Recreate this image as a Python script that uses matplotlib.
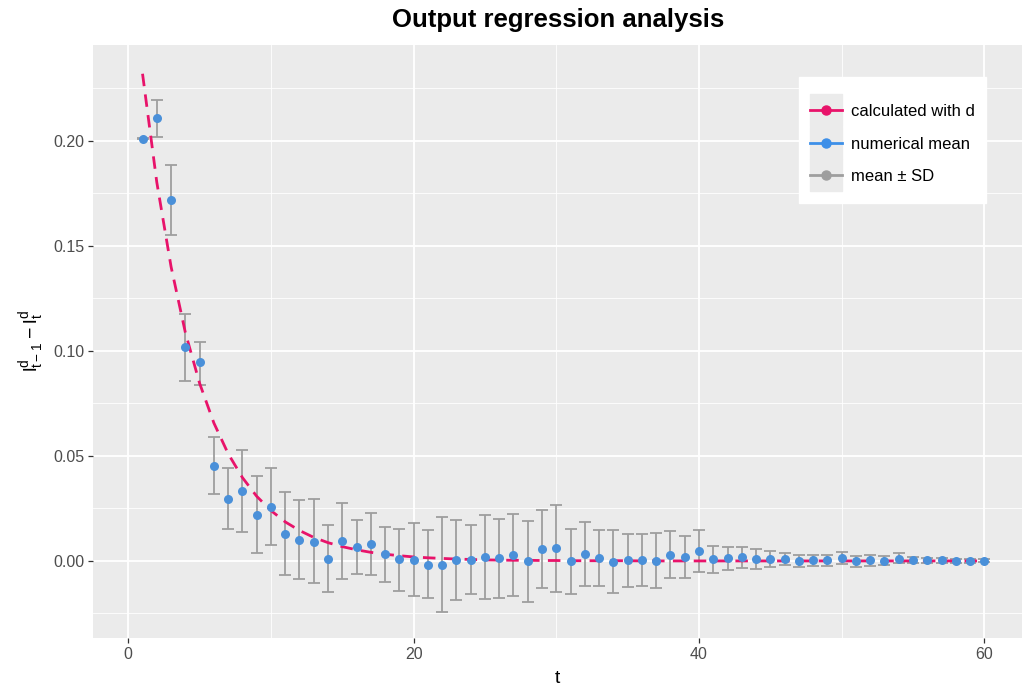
import matplotlib
matplotlib.use("Agg")
import matplotlib.pyplot as plt
import numpy as np
from matplotlib.lines import Line2D
from matplotlib.legend_handler import HandlerTuple, HandlerLine2D
from matplotlib.ticker import MultipleLocator, FuncFormatter

# datos
t = list(range(1, 61))

calculado = [0.2320, 0.1803, 0.1401, 0.1088, 0.0846, 0.0657, 0.0511, 0.0397, 0.0308, 0.0240,
             0.0186, 0.0145, 0.0112, 0.0087, 0.0068, 0.0053, 0.0041, 0.0032, 0.0025, 0.0019,
             0.0015, 0.0012, 0.0009, 0.0007, 0.0005, 0.0004, 0.0003, 0.0003, 0.0002, 0.0002,
             0.0001, 0.0001, 0.0001, 0.0001, 0.0001, 0.0, 0.0, 0.0, 0.0, 0.0,
             0.0, 0.0, 0.0, 0.0, 0.0, 0.0, 0.0, 0.0, 0.0, 0.0,
             0.0, 0.0, 0.0, 0.0, 0.0, 0.0, 0.0, 0.0, 0.0, 0.0]

media = [0.2010, 0.2108, 0.1718, 0.1021, 0.0946, 0.0454, 0.0295, 0.0335, 0.0221, 0.0259,
         0.0130, 0.0102, 0.0092, 0.0011, 0.0095, 0.0068, 0.0082, 0.0035, 0.0008, 0.0005,
         -0.0017, -0.0017, 0.0005, 0.0005, 0.0019, 0.0013, 0.0029, -0.0002, 0.0057, 0.0062,
         -0.0002, 0.0035, 0.0014, -0.0005, 0.0003, 0.0005, 0.0002, 0.0030, 0.0019, 0.0049,
         0.0011, 0.0013, 0.0021, 0.0011, 0.0008, 0.0010, -0.0002, 0.0004, 0.0004, 0.0014,
         -0.0002, 0.0004, 0.0002, 0.0010, 0.0003, 0.0003, 0.0004, 0.0001, 0.0000, 0.0002]

superior = [0.2012, 0.2195, 0.1886, 0.1176, 0.1044, 0.0592, 0.0441, 0.0527, 0.0405, 0.0441,
            0.0327, 0.0290, 0.0297, 0.0173, 0.0276, 0.0195, 0.0227, 0.0162, 0.0154, 0.0179,
            0.0145, 0.0210, 0.0195, 0.0173, 0.0217, 0.0200, 0.0222, 0.0190, 0.0244, 0.0268,
            0.0151, 0.0187, 0.0146, 0.0146, 0.0127, 0.0127, 0.0133, 0.0141, 0.0121, 0.0148,
            0.0073, 0.0068, 0.0068, 0.0057, 0.0048, 0.0040, 0.0029, 0.0030, 0.0030, 0.0043,
            0.0025, 0.0030, 0.0025, 0.0036, 0.0018, 0.0016, 0.0016, 0.0011, 0.0008, 0.0010]

inferior = [0.2008, 0.2021, 0.1552, 0.0857, 0.0838, 0.0318, 0.0151, 0.0140, 0.0038, 0.0075,
            -0.0065, -0.0087, -0.0106, -0.0149, -0.0087, -0.0062, -0.0065, -0.0098, -0.0141, -0.0167,
            -0.0176, -0.0243, -0.0186, -0.0159, -0.0181, -0.0176, -0.0165, -0.0194, -0.0129, -0.0146,
            -0.0156, -0.0118, -0.0121, -0.0154, -0.0124, -0.0118, -0.0130, -0.0083, -0.0083, -0.0052,
            -0.0056, -0.0041, -0.0035, -0.0038, -0.0030, -0.0019, -0.0030, -0.0022, -0.0022, -0.0015,
            -0.0030, -0.0022, -0.0020, -0.0012, -0.0012, -0.0010, -0.0008, -0.0009, -0.0008, -0.0006]

rojo = '#e8136a'
azul = '#4a90d9'
gris = '#9e9e9e'

plt.rcParams['font.family'] = ['Liberation Sans', 'DejaVu Sans']
plt.rcParams['mathtext.fontset'] = 'custom'
plt.rcParams['mathtext.rm'] = 'Liberation Sans'


# handler que baja un poco las claves para centrarlas con el texto
class HandlerCentrado(HandlerLine2D):
    def create_artists(self, legend, orig_handle, xdescent, ydescent, width, height, fontsize, trans):
        arts = super().create_artists(legend, orig_handle, xdescent, ydescent,
                                      width, height, fontsize, trans)
        for a in arts:
            a.set_ydata(np.asarray(a.get_ydata()) - 3.3)
        return arts


fig = plt.figure(figsize=(10.22, 6.91), dpi=100)
ax = fig.add_axes([0.0913, 0.0767, 0.9087, 0.8582])
ax.set_facecolor('#ebebeb')

m = np.array(media)
err = [m - np.array(inferior), np.array(superior) - m]
ax.errorbar(t, media, yerr=err, fmt='none', ecolor=gris, elinewidth=1.3,
            capsize=4.3, capthick=1.3, zorder=3)
ax.plot(t, calculado, color=rojo, lw=2.0, dashes=(4.5, 3), zorder=4)
ax.plot(t, media, 'o', color=azul, markersize=6.5, markeredgewidth=0, zorder=5)

# ejes
ax.set_xlim(-2.45, 62.64)
ax.set_ylim(-0.0367, 0.2457)
ax.xaxis.set_major_locator(MultipleLocator(20))
ax.xaxis.set_minor_locator(MultipleLocator(10))
ax.yaxis.set_major_locator(MultipleLocator(0.05))
ax.yaxis.set_minor_locator(MultipleLocator(0.025))
ax.yaxis.set_major_formatter(FuncFormatter(lambda v, p: f'{v:.2f}'))
ax.grid(True, which='major', color='white', lw=1.3)
ax.grid(True, which='minor', color='white', lw=0.6)
ax.set_axisbelow(True)
for s in ax.spines.values():
    s.set_visible(False)
ax.tick_params(which='major', length=3.5, width=0.9, color='#333333',
               labelsize=11.5, labelcolor='#4d4d4d', pad=3)
ax.tick_params(which='minor', length=0)

ax.set_xlabel('t', fontsize=14, labelpad=6)
ax.set_ylabel(r'$\mathrm{l^d_{t-1} - l^d_t}$', fontsize=14, labelpad=5)
ax.set_title('Output regression analysis', fontsize=18.5, fontweight='bold', pad=13)

# leyenda con fondo gris en las claves
fondo = Line2D([], [], marker='s', markersize=23.3, color='#ebebeb', linestyle='')
h1 = (fondo, Line2D([], [], color=rojo, lw=2, marker='o', markersize=6.5))
h2 = (fondo, Line2D([], [], color='#3d8fe8', lw=2, marker='o', markersize=6.5))
h3 = (fondo, Line2D([], [], color=gris, lw=2, marker='o', markersize=6.5))
leg = ax.legend([h1, h2, h3], ['calculated with d', 'numerical mean', 'mean ± SD'],
                handler_map={tuple: HandlerTuple(ndivide=1), Line2D: HandlerCentrado()},
                loc='upper right', bbox_to_anchor=(0.9615, 0.946), borderaxespad=0,
                frameon=True, fancybox=False, edgecolor='white', facecolor='white',
                framealpha=1, fontsize=12, labelspacing=0, handlelength=1.94,
                handleheight=2.61, handletextpad=0.56, borderpad=0.66,
                title=' ', title_fontsize=5)

fig.savefig('out.png', dpi=100)
